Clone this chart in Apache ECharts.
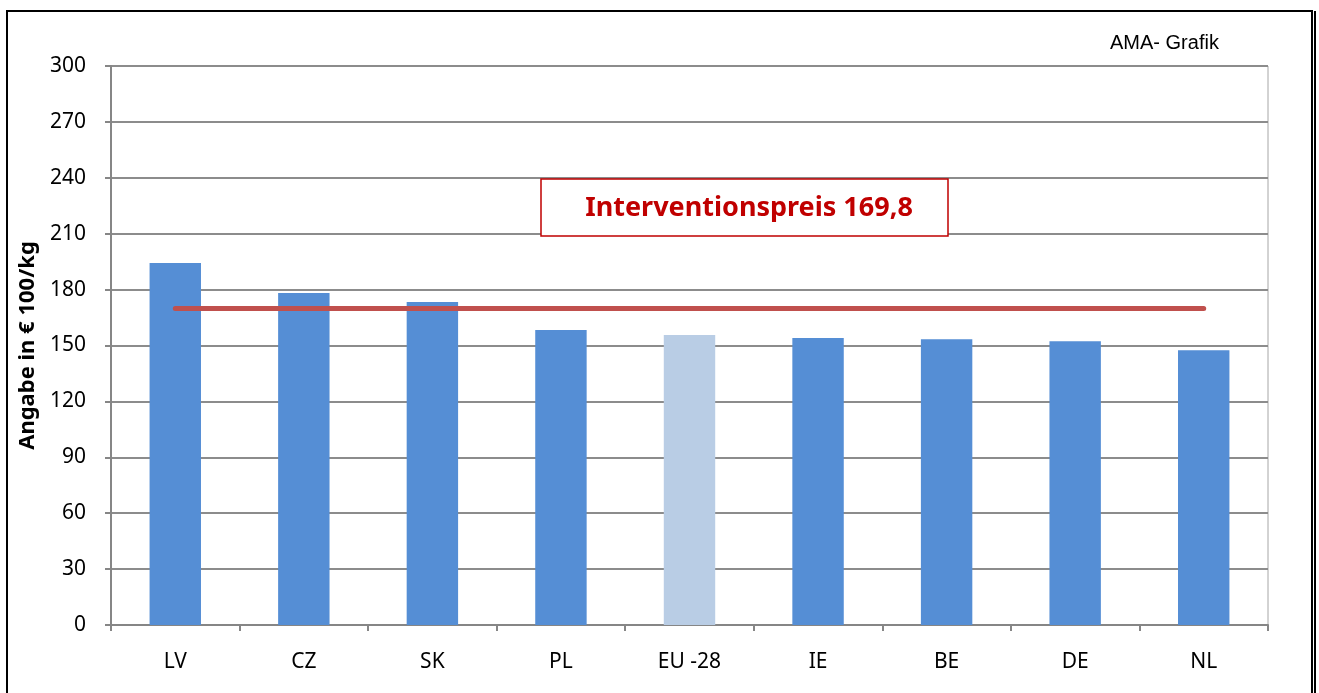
<!DOCTYPE html>
<html>
<head>
<meta charset="utf-8">
<script src="https://cdn.jsdelivr.net/npm/echarts@6/dist/echarts.min.js"></script>
<style>
  html, body { margin: 0; padding: 0; background: #fff; }
  #chart { width: 1319px; height: 693px; }
</style>
</head>
<body>
<div id="chart"></div>
<script>
// Länder und Preise (€/100 kg)
const categories = ['LV', 'CZ', 'SK', 'PL', 'EU -28', 'IE', 'BE', 'DE', 'NL']
const prices = [194.3, 178.2, 173.3, 158.3, 155.6, 154.0, 153.4, 152.3, 147.4]
const interventionPrice = 169.8
const highlight = 'EU -28' // hellere Farbe für den EU-Schnitt

const chart = echarts.init(document.getElementById('chart'))

const barData = categories.map((c, i) => ({
  value: prices[i],
  itemStyle: { color: c === highlight ? '#b9cde5' : '#558ed5' }
}))
const lineData = categories.map(() => interventionPrice)

const font = 'Noto Sans, Open Sans, sans-serif'

const option = {
  animation: false,
  backgroundColor: '#fff',
  grid: {
    left: 111,
    right: 51,
    top: 66,
    bottom: 68,
    show: true,
    borderColor: '#a6a6a6',
    borderWidth: 1
  },
  xAxis: {
    type: 'category',
    data: categories,
    axisLine: { lineStyle: { color: '#868686', width: 2 } },
    axisTick: { show: true, length: 6, lineStyle: { color: '#868686', width: 2 } },
    axisLabel: { color: '#000', fontFamily: font, fontSize: 21, margin: 27 }
  },
  yAxis: {
    type: 'value',
    min: 0,
    max: 300,
    interval: 30,
    name: 'Angabe in € 100/kg',
    nameLocation: 'middle',
    nameGap: 68,
    nameTextStyle: { color: '#000', fontFamily: font, fontSize: 22, fontWeight: 'bold' },
    axisLine: { show: true, lineStyle: { color: '#868686', width: 2 } },
    axisTick: { show: true, length: 6, lineStyle: { color: '#868686', width: 2 } },
    axisLabel: { color: '#000', fontFamily: font, fontSize: 21, margin: 25 },
    splitLine: { lineStyle: { color: '#8c8c8c', width: 2 } }
  },
  series: [
    {
      type: 'bar',
      data: barData,
      barWidth: '40%',
      z: 2
    },
    {
      type: 'line',
      data: lineData,
      symbol: 'none',
      lineStyle: { color: '#c0504d', width: 5, cap: 'round' },
      z: 3
    }
  ],
  graphic: [
    // äußerer Rahmen
    {
      type: 'rect',
      shape: { x: 7, y: 11, width: 1305, height: 700 },
      style: { fill: 'none', stroke: '#000', lineWidth: 2 },
      z: 10
    },
    {
      type: 'line',
      shape: { x1: 1315, y1: 11, x2: 1315, y2: 700 },
      style: { stroke: '#000', lineWidth: 2 },
      z: 10
    },
    {
      type: 'text',
      left: 1110,
      top: 33,
      style: { text: 'AMA- Grafik', fill: '#000', font: '20px Liberation Sans, Arial, sans-serif' }
    },
    // Kasten Interventionspreis
    {
      type: 'rect',
      shape: { x: 541, y: 179, width: 407, height: 57 },
      style: { fill: '#fff', stroke: '#c00000', lineWidth: 1.5 },
      z: 10
    },
    {
      type: 'text',
      x: 749,
      y: 208,
      style: {
        text: 'Interventionspreis 169,8',
        fill: '#c00000',
        font: 'bold 27px Noto Sans, Open Sans, sans-serif',
        align: 'center',
        verticalAlign: 'middle'
      },
      z: 11
    }
  ]
}

chart.setOption(option)
</script>
</body>
</html>
